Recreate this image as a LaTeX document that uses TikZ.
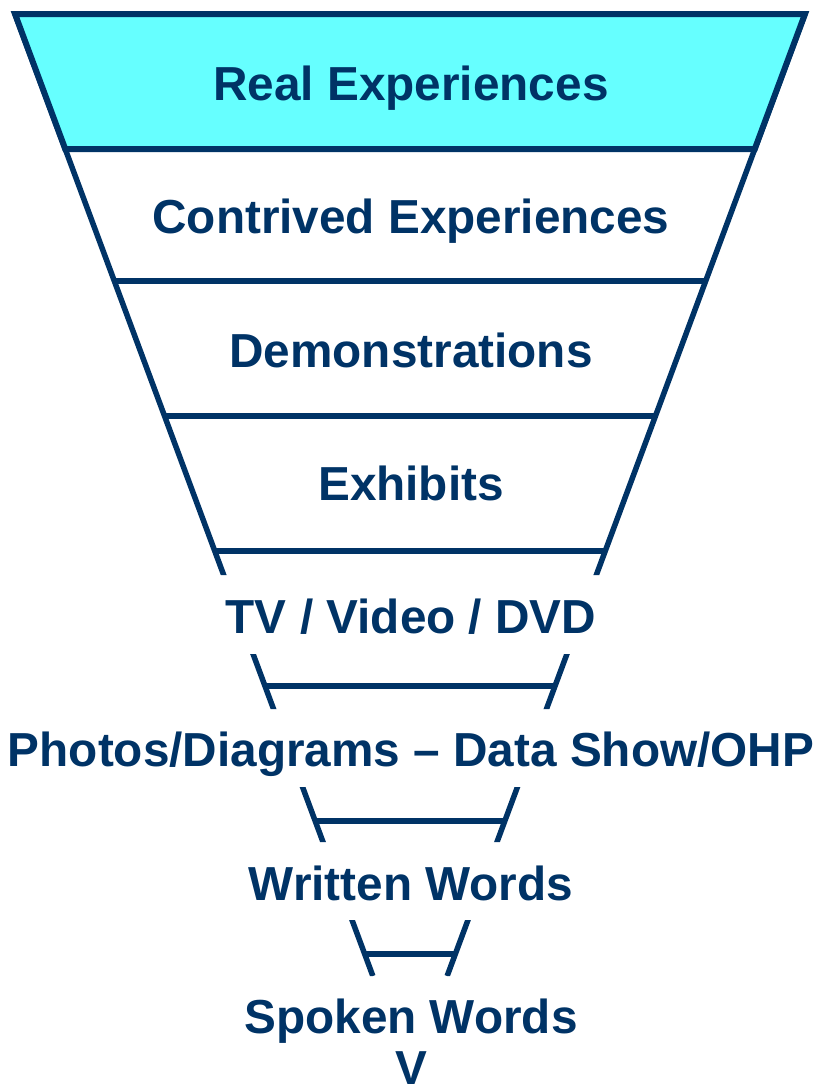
\documentclass[tikz,border=0pt]{standalone}
\usepackage{fontspec}
\setmainfont{Liberation Sans}
\definecolor{navy}{HTML}{003366}
\definecolor{aqua}{HTML}{66FFFF}
% half width of the funnel at height y
\pgfmathdeclarefunction{hw}{1}{\pgfmathparse{395-0.372*(#1-14)}}
\begin{document}
\begin{tikzpicture}[x=1bp,y=-1bp,
  rung/.style={draw=navy,line width=5.5bp},
  tier/.style={text=navy,font=\fontsize{47.9}{57}\selectfont\bfseries,inner sep=0pt,anchor=base}]
\useasboundingbox (0,0) rectangle (818,1090);

% side and rung end points
\foreach \y/\n in {14/0,149/1,281/2,416/3,551/4,686/5,821/6,954/7,976/8}{
  \coordinate (L\n) at ({410-hw(\y)},\y);
  \coordinate (R\n) at ({410+hw(\y)},\y);
}

% funnel sides, interrupted where the lower labels sit
\begin{scope}
  \clip (0,0) rectangle (818,575) (0,654) rectangle (818,709)
        (0,787) rectangle (818,842) (0,920) rectangle (818,976);
  \draw[rung] (L0) -- (L8);
  \draw[rung] (R0) -- (R8);
\end{scope}

% rungs
\foreach \n in {2,...,7}{
  \draw[rung] (L\n) -- (R\n);
}

% highlighted top tier
\draw[fill=aqua,draw=navy,line width=6bp,line join=miter] (L0) -- (R0) -- (R1) -- (L1) -- cycle;

% tier labels
\node[tier] (real) at (411,100) {Real Experiences};
\node[tier] (contrived) at (411,233) {Contrived Experiences};
\node[tier] (demo) at (411,367) {Demonstrations};
\node[tier] (exhibits) at (411,500) {Exhibits};
\node[tier] (tv) at (411,633) {TV / Video / DVD};
\node[tier] (photos) at (411,766) {Photos/Diagrams – Data Show/OHP};
\node[tier] (written) at (411,900) {Written Words};
\node[tier] (spoken) at (411,1033) {Spoken Words};
\node[tier] (tip) at (411,1084) {V};
\end{tikzpicture}
\end{document}
